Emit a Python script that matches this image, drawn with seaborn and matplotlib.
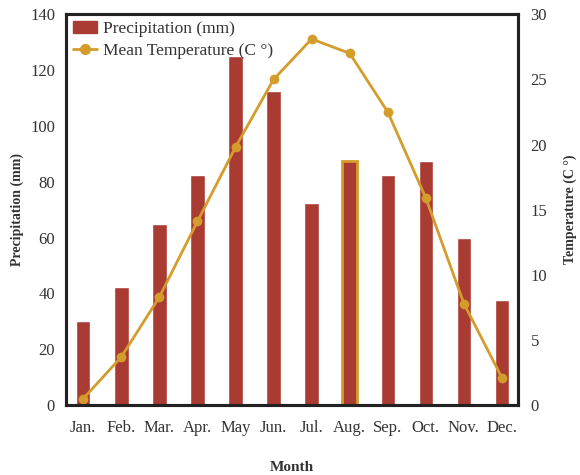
import numpy as np
import seaborn as sns
import matplotlib.pyplot as plt
from matplotlib.patches import Patch
from matplotlib.lines import Line2D

# dados mensais
months = ["Jan.", "Feb.", "Mar.", "Apr.", "May", "Jun.", "Jul.", "Aug.", "Sep.", "Oct.", "Nov.", "Dec."]
precip = [30, 42.5, 65, 82.5, 125, 112.5, 72.5, 87.5, 82.5, 87.5, 60, 37.5]
temp = [0.5, 3.7, 8.3, 14.1, 19.8, 25.0, 28.1, 27.0, 22.5, 15.9, 7.8, 2.1]

bar_color = "#a93b33"
line_color = "#d39c2b"
text_color = "#333333"

sns.set_style("white")
plt.rcParams["font.family"] = ["Liberation Serif", "DejaVu Serif"]
plt.rcParams["text.color"] = text_color
plt.rcParams["axes.labelcolor"] = text_color
plt.rcParams["xtick.color"] = text_color
plt.rcParams["ytick.color"] = text_color

fig, ax = plt.subplots(figsize=(5.8, 4.75), dpi=100)
fig.subplots_adjust(left=0.114, right=0.893, top=0.97, bottom=0.147)

# Barras de precipitação
sns.barplot(x=months, y=precip, color=bar_color, width=0.38, saturation=1, ax=ax)
aug = ax.patches[7]
aug.set_edgecolor(line_color)
aug.set_linewidth(2)

ax.set_ylim(0, 140)
ax.set_yticks(range(0, 141, 20))
ax.set_xlim(-0.45, 11.42)
ax.set_ylabel("Precipitation (mm)", fontsize=10, fontweight="bold", labelpad=4)
ax.set_xlabel("Month", fontsize=11, fontweight="bold", labelpad=18)
ax.tick_params(axis="both", length=0, labelsize=12)
ax.tick_params(axis="y", pad=8)
ax.tick_params(axis="x", pad=11)

# Linha de temperatura no eixo secundário
ax2 = ax.twinx()
sns.lineplot(x=np.arange(len(temp)), y=temp, color=line_color, marker="o",
             markersize=7, markeredgewidth=0, linewidth=2, ax=ax2)
ax2.set_ylim(0, 30)
ax2.set_yticks(range(0, 31, 5))
ax2.set_ylabel("Temperature (C °)", fontsize=10, fontweight="bold", labelpad=12)
ax2.tick_params(axis="y", length=0, labelsize=12, pad=9)

for a in (ax, ax2):
    for s in a.spines.values():
        s.set_color("#222222")
        s.set_linewidth(2.2)

handles = [Patch(color=bar_color, label="Precipitation (mm)"),
           Line2D([0], [0], color=line_color, marker="o", markersize=7,
                  linewidth=2, label="Mean Temperature (C °)")]
ax2.legend(handles=handles, loc="upper left", frameon=False, fontsize=12.5,
           borderaxespad=0.1, handlelength=1.4, handletextpad=0.3,
           labelspacing=0.3, borderpad=0.3)

plt.savefig("out.png")
